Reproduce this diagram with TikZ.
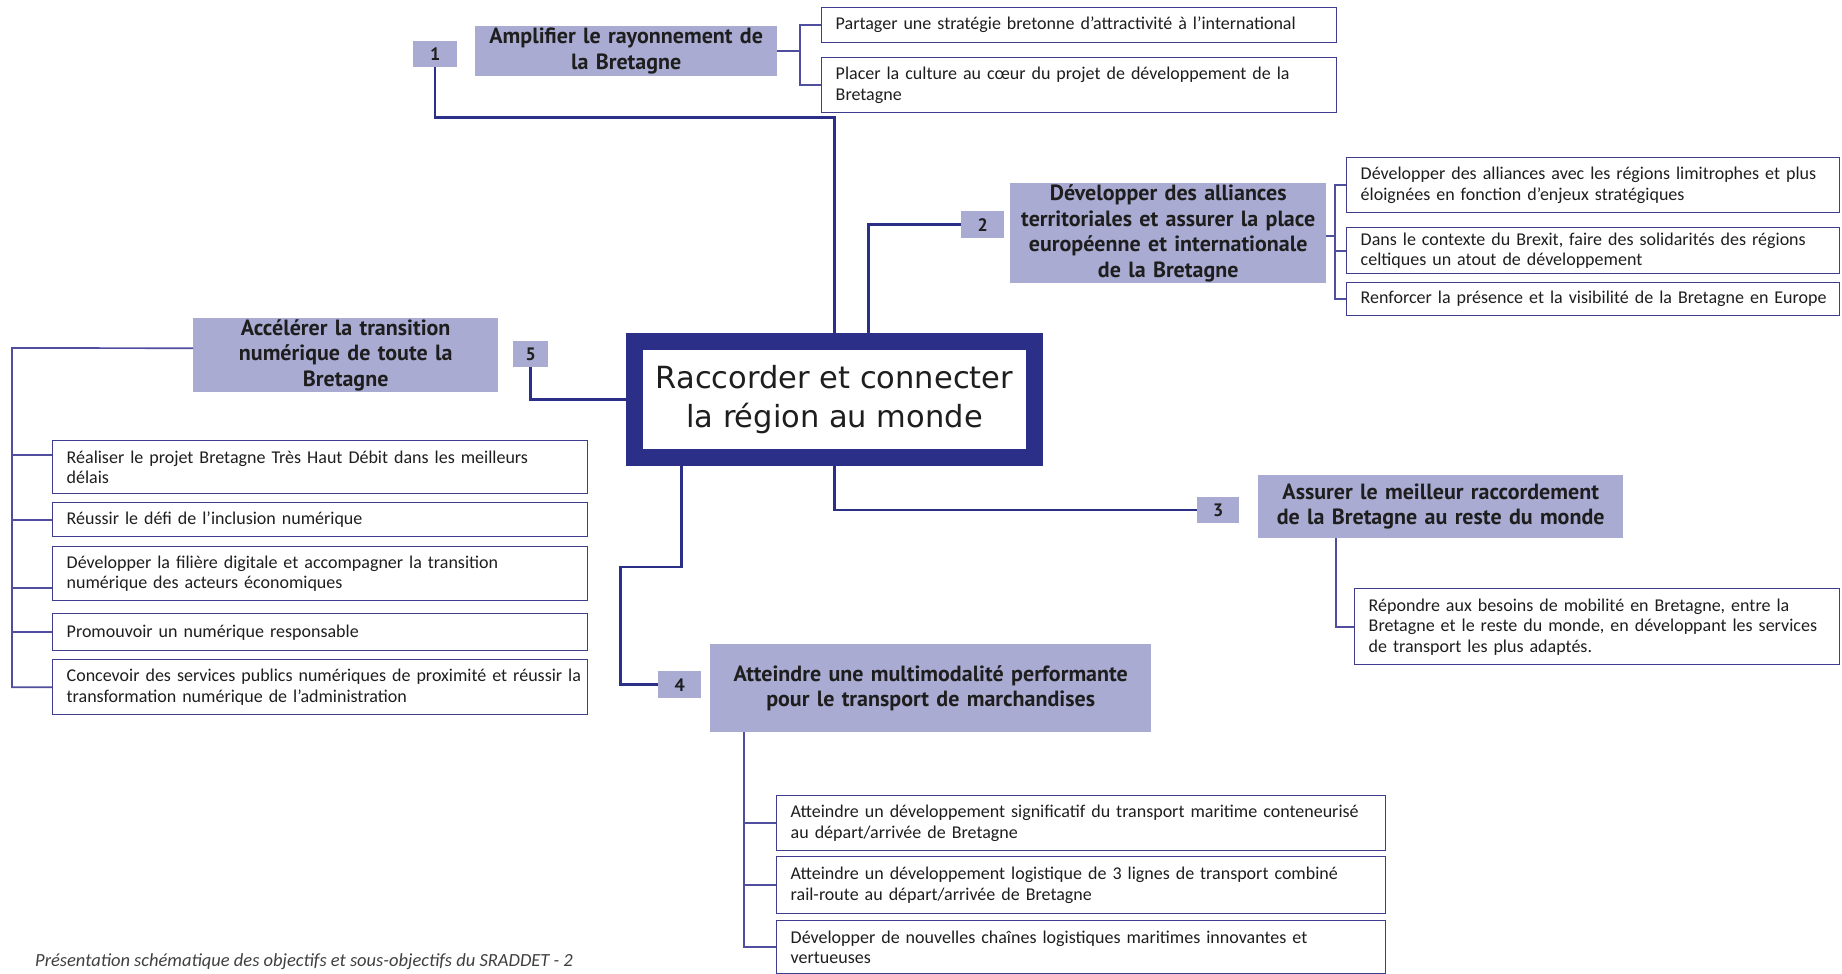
\documentclass[tikz,border=0pt]{standalone}
\usepackage{fontspec}
\setmainfont{Carlito}
\newfontfamily\hdfont{PT Sans}
\newfontfamily\ctrfont{DejaVu Sans}
\usetikzlibrary{calc}

\definecolor{lav}{RGB}{169,171,210}
\definecolor{navy}{RGB}{44,47,135}
\definecolor{subline}{RGB}{62,60,140}
\definecolor{brkc}{RGB}{80,78,158}
\definecolor{txt}{RGB}{30,30,30}

\tikzset{
  subbox/.style={draw=subline, line width=1.4pt, fill=white, anchor=north west,
    inner xsep=14pt, inner ysep=0pt, align=left, text=txt,
    font=\fontsize{18}{20.5}\selectfont},
  ttlbox/.style={fill=lav, anchor=north west, inner sep=0pt, align=center, text=txt,
    font=\hdfont\bfseries\fontsize{22}{25.5}\selectfont},
  numbox/.style={fill=lav, anchor=north west, inner sep=0pt, text=txt,
    font=\hdfont\bfseries\fontsize{18}{20}\selectfont},
  link/.style={draw=navy, line width=2.5pt},
  brk/.style={draw=brkc, line width=1.7pt},
}

\begin{document}
\begin{tikzpicture}[x=1pt,y=-1pt]
\useasboundingbox (0,0) rectangle (1842,974);
\fill[white] (0,0) rectangle (1842,974);

% central theme
\node[draw=navy, line width=17pt, fill=white, minimum width=400pt, minimum height=116pt,
  inner sep=0pt, align=center, text=txt, font=\ctrfont\fontsize{30.5}{39}\selectfont]
  (center) at (834.5,399.5) {Raccorder et connecter\\la région au monde};

% objective 1
\node[numbox, minimum width=44pt, minimum height=26pt] (n1) at (413,41) {1};
\node[ttlbox, minimum width=302pt, minimum height=50pt, text width=302pt] (t1) at (475,26)
  {Amplifier le rayonnement de\\la Bretagne};
\node[subbox, minimum width=515pt, minimum height=35pt, text width=487pt] (s1a) at (821,7)
  {Partager une stratégie bretonne d'attractivité à l'international};
\node[subbox, minimum width=515pt, minimum height=55pt, text width=487pt] (s1b) at (821,57)
  {Placer la culture au cœur du projet de développement de la\\Bretagne};

% objective 2
\node[numbox, minimum width=43pt, minimum height=27pt] (n2) at (961,211) {2};
\node[ttlbox, minimum width=316pt, minimum height=100pt, text width=316pt] (t2) at (1010,183)
  {Développer des alliances\\territoriales et assurer la place\\européenne et internationale\\de la Bretagne};
\node[subbox, minimum width=493pt, minimum height=55pt, text width=465pt] (s2a) at (1346,157)
  {Développer des alliances avec les régions limitrophes et plus\\éloignées en fonction d'enjeux stratégiques};
\node[subbox, minimum width=493pt, minimum height=46pt, text width=465pt] (s2b) at (1346,227)
  {Dans le contexte du Brexit, faire des solidarités des régions\\celtiques un atout de développement};
\node[subbox, minimum width=493pt, minimum height=33pt, text width=465pt] (s2c) at (1346,282)
  {\mbox{Renforcer la présence et la visibilité de la Bretagne en Europe}};

% objective 3
\node[numbox, minimum width=42pt, minimum height=26pt] (n3) at (1197,497) {3};
\node[ttlbox, minimum width=365pt, minimum height=63pt, text width=365pt] (t3) at (1258,475)
  {Assurer le meilleur raccordement\\de la Bretagne au reste du monde};
\node[subbox, minimum width=485pt, minimum height=76pt, text width=457pt] (s3) at (1354,588)
  {Répondre aux besoins de mobilité en Bretagne, entre la\\Bretagne et le reste du monde, en développant les services\\de transport les plus adaptés.};

% objective 4
\node[numbox, minimum width=43pt, minimum height=27pt] (n4) at (658,671) {4};
\node[ttlbox, minimum width=441pt, minimum height=88pt, text width=441pt] (t4) at (710,644)
  {Atteindre une multimodalité performante\\pour le transport de marchandises};
\node[subbox, minimum width=609pt, minimum height=55pt, text width=581pt] (s4a) at (776,795)
  {Atteindre un développement significatif du transport maritime conteneurisé\\au départ/arrivée de Bretagne};
\node[subbox, minimum width=609pt, minimum height=57pt, text width=581pt] (s4b) at (776,856)
  {Atteindre un développement logistique de 3 lignes de transport combiné\\rail-route au départ/arrivée de Bretagne};
\node[subbox, minimum width=609pt, minimum height=53pt, text width=581pt] (s4c) at (776,920)
  {Développer de nouvelles chaînes logistiques maritimes innovantes et\\vertueuses};

% objective 5
\node[numbox, minimum width=35pt, minimum height=26pt] (n5) at (513,341) {5};
\node[ttlbox, minimum width=305pt, minimum height=74pt, text width=305pt] (t5) at (193,318)
  {Accélérer la transition\\numérique de toute la\\Bretagne};
\node[subbox, minimum width=535pt, minimum height=53pt, text width=507pt] (s5a) at (52,440)
  {Réaliser le projet Bretagne Très Haut Débit dans les meilleurs\\délais};
\node[subbox, minimum width=535pt, minimum height=34pt, text width=507pt] (s5b) at (52,502)
  {Réussir le défi de l'inclusion numérique};
\node[subbox, minimum width=535pt, minimum height=54pt, text width=507pt] (s5c) at (52,546)
  {Développer la filière digitale et accompagner la transition\\numérique des acteurs économiques};
\node[subbox, minimum width=535pt, minimum height=37pt, text width=507pt] (s5d) at (52,613)
  {Promouvoir un numérique responsable};
\node[subbox, minimum width=535pt, minimum height=55pt, text width=507pt] (s5e) at (52,659)
  {\mbox{Concevoir des services publics numériques de proximité et réussir la}\\transformation numérique de l’administration};

% links from the central theme to the objectives
\draw[link] (n1.south) -- ++(0,50) -| (center.north);
\draw[link] ([xshift=34pt]center.north) |- (n2.west);
\draw[link] (center.south) |- (n3.west);
\draw[link] ([xshift=-153pt]center.south) -- ++(0,101) -- ++(-61,0) |- (n4.west);
\draw[link] (center.west) -| (n5.south);

% objective 1 brackets
\draw[brk] (t1.east) -- ++(23,0);
\draw[brk] (s1a.west) -- ++(-21,0) |- (s1b.west);

% objective 2 brackets
\draw[brk] ([yshift=-3pt]t2.east) -- ++(9,0);
\draw[brk] (s2a.west) -- ++(-11,0) |- (s2c.west);
\draw[brk] (s2b.west) -- ++(-11,0);

% objective 3 bracket
\draw[brk] ([xshift=78pt]t3.south west) |- (s3.west);

% objective 4 brackets
\draw[brk] ([xshift=34pt]t4.south west) |- (s4c.west);
\draw[brk] (s4a.west) -- ++(-32,0);
\draw[brk] (s4b.west) -- ++(-32,0);

% objective 5 brackets
\coordinate (b5) at (12,348);
\draw[brk] ([yshift=7pt]t5.west) -- (b5) |- (s5e.west);
\draw[brk] ([yshift=12pt]s5a.west) -- ++(-40,0);
\draw[brk] (s5b.west) -- ++(-40,0);
\draw[brk] ([yshift=-14pt]s5c.west) -- ++(-40,0);
\draw[brk] (s5d.west) -- ++(-40,0);

% caption
\node[anchor=base west, inner sep=0pt, text=txt!85, font=\itshape\fontsize{18.5}{20}\selectfont]
  (cap) at (35,966) {Présentation schématique des objectifs et sous-objectifs du SRADDET - 2};
\end{tikzpicture}
\end{document}
